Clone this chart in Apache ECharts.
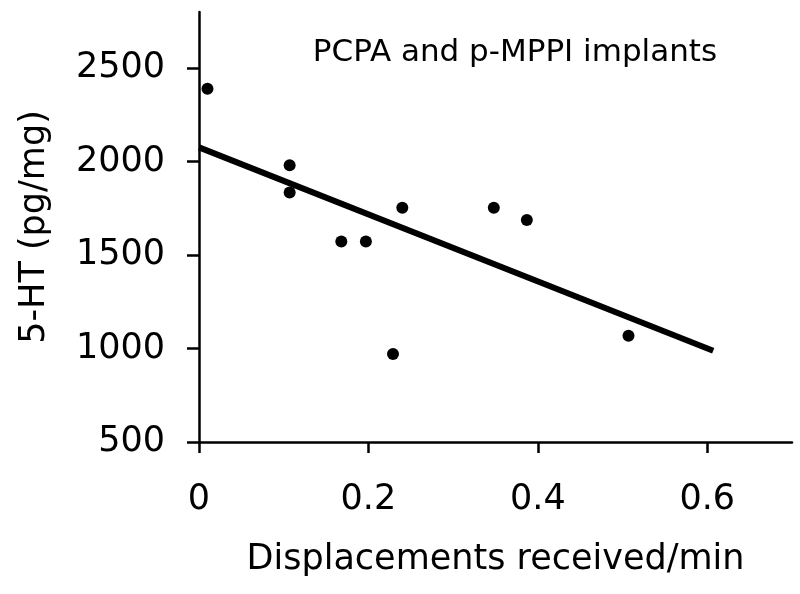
<!DOCTYPE html>
<html>
<head>
<meta charset="utf-8">
<script src="https://cdn.jsdelivr.net/npm/echarts@6/dist/echarts.min.js"></script>
<style>html,body{margin:0;padding:0;background:#fff}#c{width:800px;height:594px}</style>
</head>
<body>
<div id="c"></div>
<script>
var displacements = [0.010, 0.107, 0.107, 0.168, 0.197, 0.229, 0.240, 0.348, 0.387, 0.507];
var serotonin     = [2390, 1980, 1835, 1573, 1573, 971, 1753, 1753, 1687, 1068];
var fitLineX = [0, 0.607];
var fitLineY = [2076, 988];
var xTicks = [0, 0.2, 0.4, 0.6];
var yTicks = [500, 1000, 1500, 2000, 2500];
var titleText = 'PCPA and p-MPPI implants';
var xName = 'Displacements received/min';
var yName = '5-HT (pg/mg)';

var points = displacements.map(function (x, i) { return [x, serotonin[i]]; });
var fit = fitLineX.map(function (x, i) { return [x, fitLineY[i]]; });

var chart = echarts.init(document.getElementById('c'));
chart.setOption({
  animation: false,
  backgroundColor: '#fff',
  title: {
    text: titleText, left: 510, top: 32, textAlign: 'center',
    textStyle: { fontFamily: 'DejaVu Sans', fontSize: 31, fontWeight: 'normal', color: '#000' }
  },
  grid: { left: 199, right: 8, top: 12, bottom: 152, containLabel: false, outerBoundsMode: 'none' },
  xAxis: {
    type: 'value', min: 0, max: 0.7,
    name: xName, nameLocation: 'middle', nameGap: 100,
    nameTextStyle: { fontFamily: 'DejaVu Sans', fontSize: 35, color: '#000' },
    axisLine: { lineStyle: { color: '#000', width: 2.5 } },
    axisTick: { show: true, length: 11, inside: false, customValues: xTicks, lineStyle: { color: '#000', width: 2.5 } },
    axisLabel: { customValues: xTicks, margin: 40, fontFamily: 'DejaVu Sans', fontSize: 35, color: '#000',
      formatter: function (v) { return v === 0 ? '0' : String(+v.toFixed(1)); } },
    splitLine: { show: false }
  },
  yAxis: {
    type: 'value', min: 500, max: 2800,
    name: yName, nameLocation: 'middle', nameGap: 147, nameRotate: 90,
    nameTextStyle: { fontFamily: 'DejaVu Sans', fontSize: 35, color: '#000' },
    axisLine: { lineStyle: { color: '#000', width: 2.5 } },
    axisTick: { show: true, length: 12, customValues: yTicks, lineStyle: { color: '#000', width: 2.5 } },
    axisLabel: { customValues: yTicks, margin: 34, fontFamily: 'DejaVu Sans', fontSize: 35, color: '#000',
      formatter: function (v) { return String(v); } },
    splitLine: { show: false }
  },
  series: [
    {
      type: 'line', data: fit, showSymbol: false, symbol: 'none',
      lineStyle: { color: '#000', width: 6 }, z: 3
    },
    {
      type: 'scatter', data: points, symbol: 'circle', symbolSize: 12,
      itemStyle: { color: '#000', opacity: 1 }, z: 4
    }
  ]
});
</script>
</body>
</html>
